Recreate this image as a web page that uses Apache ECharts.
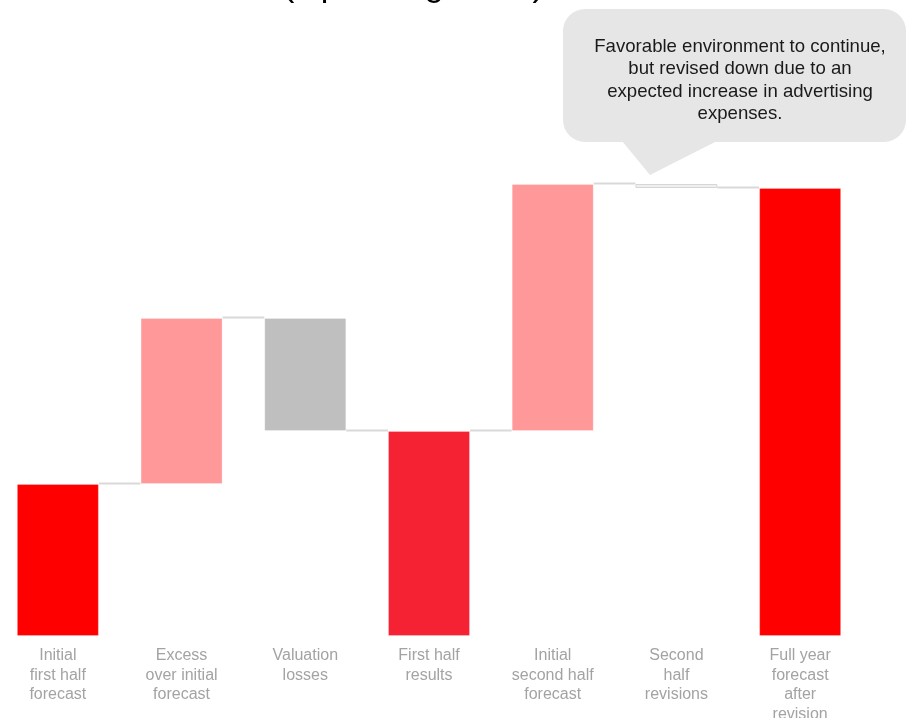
<!DOCTYPE html>
<html>
<head>
<meta charset="utf-8">
<script src="https://cdn.jsdelivr.net/npm/echarts@6/dist/echarts.min.js"></script>
<style>
html,body{margin:0;padding:0;background:#fff;}
#chart{width:907px;height:718px;}
</style>
</head>
<body>
<div id="chart"></div>
<script>
// Data
const categories = [
  "Initial\nfirst half\nforecast",
  "Excess\nover initial\nforecast",
  "Valuation\nlosses",
  "First half\nresults",
  "Initial\nsecond half\nforecast",
  "Second\nhalf\nrevisions",
  "Full year\nforecast\nafter\nrevision"
];
const changes = [15.2, 16.6, -11.3, 20.5, 24.7, -0.4, 44.8];
const barTypes = ["total", "up", "down", "total", "up", "down", "total"];
const barColors = ["#FF0000", "#FF9999", "#BFBFBF", "#F52233", "#FF9999", "#EFEFEF", "#FF0000"];
const titleText = "(Operating Profit)";
const calloutText = "Favorable environment to continue,\nbut revised down due to an\nexpected increase in advertising\nexpenses.";

// Build waterfall
const baseVals = [], heightVals = [], levels = [];
let running = 0;
for (let i = 0; i < changes.length; i++) {
  const v = changes[i];
  if (barTypes[i] === "total") {
    baseVals.push(0); heightVals.push(v); running = v;
  } else if (v >= 0) {
    baseVals.push(running); heightVals.push(v); running += v;
  } else {
    baseVals.push(running + v); heightVals.push(-v); running += v;
  }
  levels.push(running);
}
const connectorData = [];
for (let i = 0; i < categories.length - 1; i++) connectorData.push([i, levels[i]]);

const BAR_W = 82;
const chart = echarts.init(document.getElementById("chart"), null, {renderer: "canvas"});
chart.setOption({
  animation: false,
  grid: {left: -4, right: 45, top: 136, bottom: 82, containLabel: false, outerBoundsMode: "none"},
  xAxis: {
    type: "category",
    data: categories,
    axisLine: {show: false},
    axisTick: {show: false},
    splitLine: {show: false},
    axisLabel: {
      interval: 0,
      color: "#A3A3A3",
      fontSize: 16,
      lineHeight: 19.5,
      fontFamily: "Liberation Sans, Arial, sans-serif",
      margin: 10
    }
  },
  yAxis: {type: "value", min: 0, max: 50, show: false, splitLine: {show: false}},
  series: [
    {
      type: "bar", stack: "wf", barWidth: BAR_W,
      itemStyle: {color: "transparent"},
      data: baseVals, silent: true
    },
    {
      type: "bar", stack: "wf", barWidth: BAR_W,
      data: heightVals.map((v, i) => ({
        value: v,
        itemStyle: {
          color: barColors[i],
          borderColor: i === 5 ? "#D6D6D6" : "rgba(255,255,255,0.25)",
          borderWidth: 1
        }
      }))
    },
    {
      type: "custom",
      data: connectorData,
      z: 1,
      renderItem: function (params, api) {
        const p = api.coord([api.value(0), api.value(1)]);
        const band = api.size([1, 0])[0];
        return {
          type: "line",
          shape: {x1: p[0] + BAR_W / 2, y1: p[1] - 0.5, x2: p[0] + band - BAR_W / 2, y2: p[1] - 0.5},
          style: {stroke: "#D9D9D9", lineWidth: 2}
        };
      }
    }
  ],
  graphic: [
    {
      type: "text", x: 283, y: -30, silent: true,
      style: {text: titleText, font: "34px 'Liberation Sans', Arial, sans-serif", fill: "#000", align: "left", verticalAlign: "top"}
    },
    {
      type: "rect", x: 563, y: 9, silent: true,
      shape: {x: 0, y: 0, width: 343, height: 133, r: 22},
      style: {fill: "#E6E6E6"}
    },
    {
      type: "polygon", silent: true,
      shape: {points: [[622, 141], [717, 141], [650, 175]]},
      style: {fill: "#E6E6E6"}
    },
    {
      type: "text", x: 740, y: 35.5, silent: true,
      style: {
        text: calloutText,
        font: "18.6px 'Liberation Sans', Arial, sans-serif",
        lineHeight: 22.4,
        fill: "#1A1A1A",
        align: "center",
        verticalAlign: "top"
      }
    }
  ]
});
</script>
</body>
</html>
